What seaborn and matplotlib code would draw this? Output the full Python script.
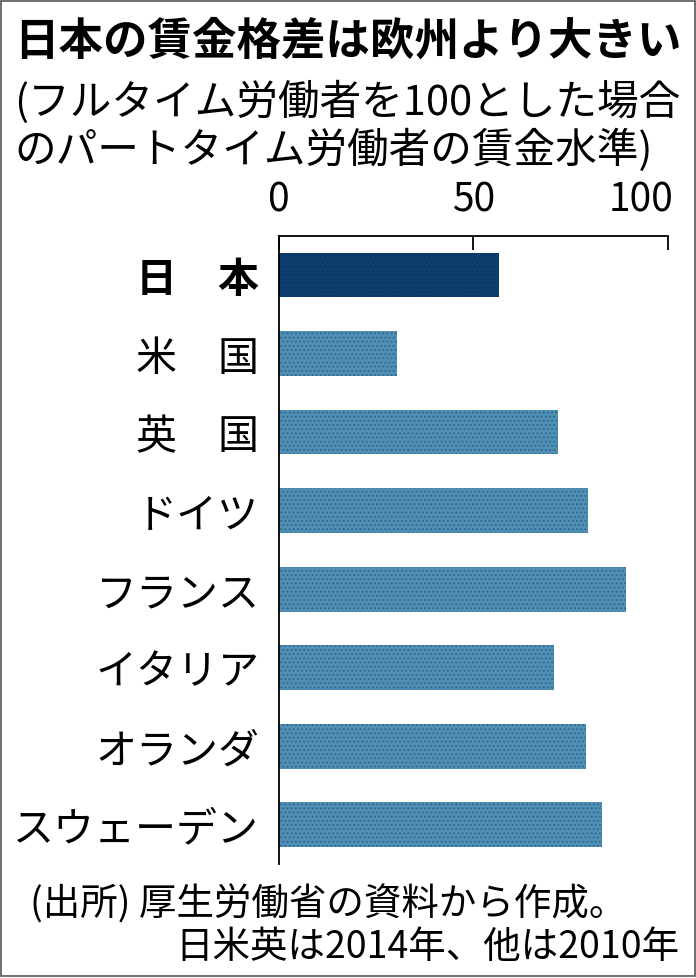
import matplotlib
matplotlib.use("Agg")
import matplotlib.pyplot as plt
import matplotlib.transforms as mtransforms
import seaborn as sns
import pandas as pd
from matplotlib.patches import Rectangle

# ---- data ----
countries = ["日　本", "米　国", "英　国", "ドイツ", "フランス", "イタリア", "オランダ", "スウェーデン"]
values = [56.7, 30.5, 71.7, 79.4, 89.3, 70.9, 79.0, 83.2]
groups = ["日本", "他", "他", "他", "他", "他", "他", "他"]
xticks = [0, 50, 100]
title = "日本の賃金格差は欧州より大きい"
subtitle1 = "(フルタイム労働者を100とした場合"
subtitle2 = "のパートタイム労働者の賃金水準)"
source1 = "(出所) 厚生労働省の資料から作成。"
source2 = "日米英は2014年、他は2010年"

df = pd.DataFrame({"country": countries, "value": values, "group": groups})

sns.set_theme(style="white")
plt.rcParams["font.family"] = ["Noto Sans CJK JP", "DejaVu Sans"]
plt.rcParams["hatch.linewidth"] = 0.8

fig = plt.figure(figsize=(6.96, 9.79), dpi=100)
ax = fig.add_axes([278.5 / 696, 1 - 865 / 979, (667.7 - 278.5) / 696, (865 - 236.7) / 979])

palette = {"日本": "#0d3f6e", "他": "#4f8fb5"}
sns.barplot(data=df, y="country", x="value", hue="group", palette=palette,
            dodge=False, width=0.57, legend=False, ax=ax, saturation=1)

# dotted texture
for p in ax.patches:
    fc = matplotlib.colors.to_hex(p.get_facecolor())
    p.set_hatch("....")
    p.set_linewidth(0)
    p.set_edgecolor("#2f6689" if fc.lower() == "#4f8fb5" else "#0a3460")

ax.set_xlim(0, 100)
ax.set_xticks(xticks)
ax.set_xticklabels([str(t) for t in xticks])
ax.xaxis.set_ticks_position("top")
ax.xaxis.set_label_position("top")
ax.tick_params(axis="x", direction="in", length=10, width=1.3, color="black",
               labelsize=28, pad=12, labelcolor="black", top=True, bottom=False)
ax.tick_params(axis="y", length=0, pad=14, labelsize=29.5, labelcolor="black")
ax.set_xlabel("")
ax.set_ylabel("")
for lbl in ax.get_yticklabels():
    if lbl.get_text() == "日　本":
        lbl.set_fontweight("bold")

# last top tick label shifted to stay inside the frame
last = ax.get_xticklabels()[-1]
last.set_ha("right")
last.set_transform(last.get_transform() + mtransforms.ScaledTranslation(6 / 100, 0, fig.dpi_scale_trans))

for s in ["right", "bottom"]:
    ax.spines[s].set_visible(False)
for s in ["top", "left"]:
    ax.spines[s].set_visible(True)
    ax.spines[s].set_color("black")
    ax.spines[s].set_linewidth(1.3)

fig.text(0.5, 1 - 42 / 979, title, ha="center", va="center", fontsize=32, fontweight="bold", color="black")
fig.text(14 / 696, 1 - 102 / 979, subtitle1, ha="left", va="center", fontsize=30, color="black")
fig.text(14 / 696, 1 - 150 / 979, subtitle2, ha="left", va="center", fontsize=30, color="black")
fig.text(30 / 696, 1 - 905 / 979, source1, ha="left", va="center", fontsize=27, color="black")
fig.text(680 / 696, 1 - 948 / 979, source2, ha="right", va="center", fontsize=27, color="black")

fig.add_artist(Rectangle((0.002, 0.002), 0.996, 0.996, transform=fig.transFigure,
                         fill=False, edgecolor="#555555", linewidth=1.2))

fig.savefig("out.png", dpi=100, facecolor="white")
